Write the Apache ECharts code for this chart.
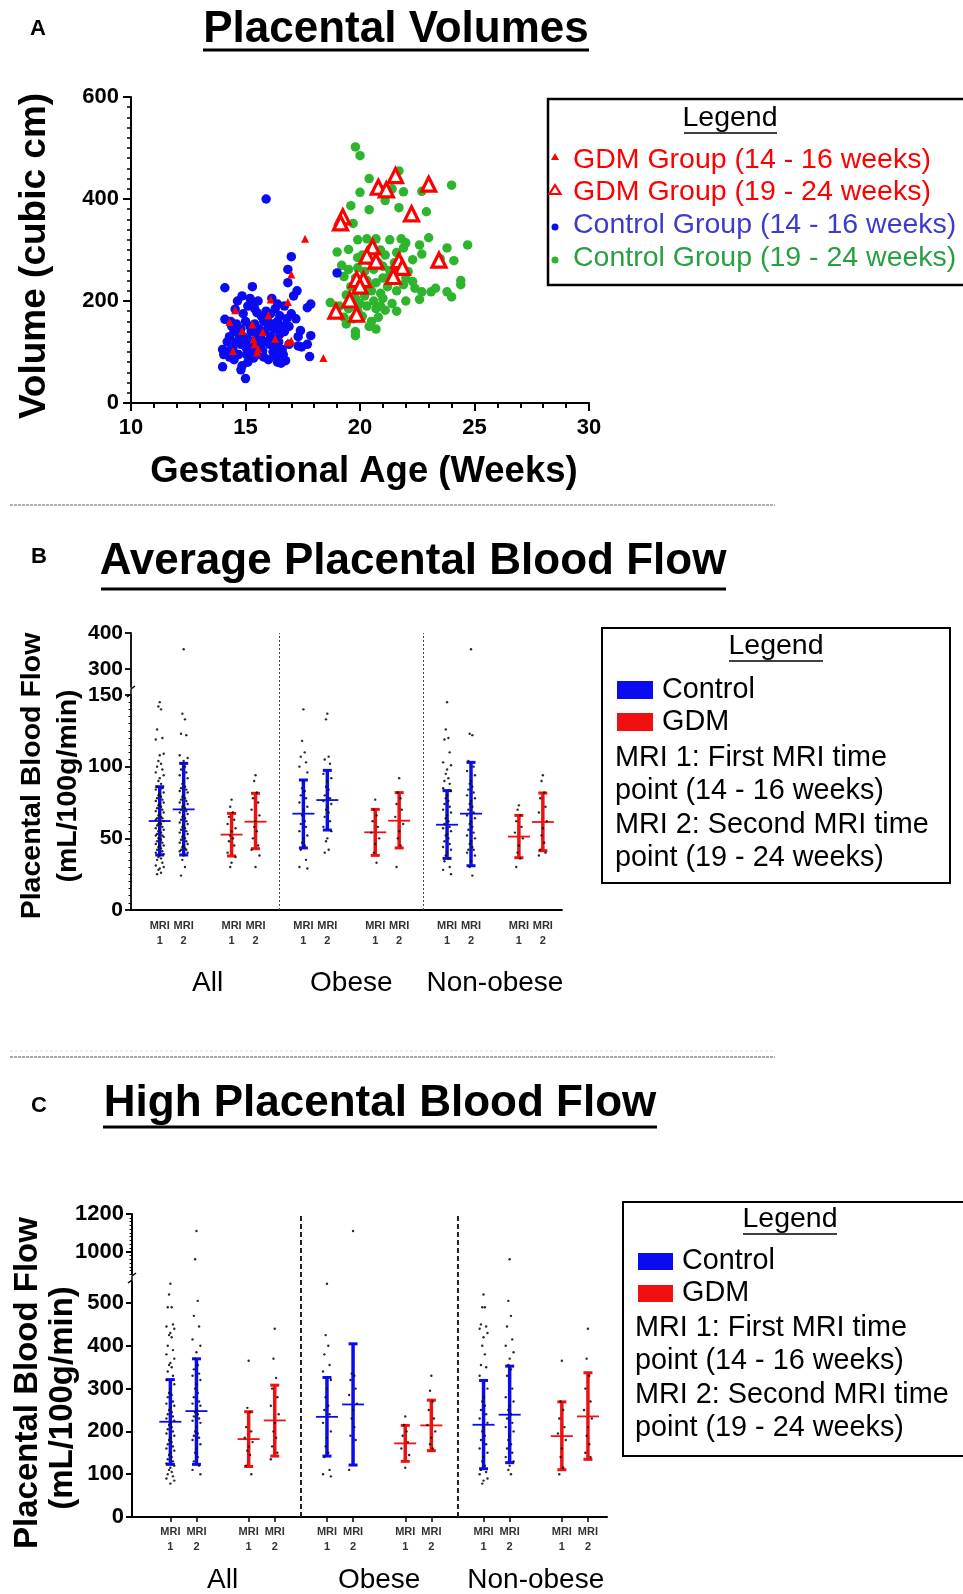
<!DOCTYPE html>
<html><head><meta charset="utf-8">
<script src="https://cdn.jsdelivr.net/npm/echarts@6/dist/echarts.min.js"></script>
<style>html,body{margin:0;padding:0;background:#fff}#c{width:963px;height:1594px}</style>
</head><body><div id="c"></div>
<script>
// ---------------- Panel A data: [gestational week, volume cm3] ----------------
const ctrlEarly = [[15.9,400],[19.0,255],[17.0,287],[16.85,262],[16.85,236],[14.1,226],[15.3,228],[17.25,220],[17.1,210],[14.85,210],[15.35,197],[16.4,194],[17.85,194],[17.7,187],[14.55,184],[15.5,177],[16.5,171],[14.1,164],[17.2,165],[16.9,150],[17.4,142],[17.85,132],[17.7,115],[17.3,112],[17.45,110],[17.8,91],[16.75,83],[16.4,80],[15.0,48],[14.0,71],[14.85,73],[14.3,90],[14.5,85],[14.7,95],[14.2,100],[14.0,105],[14.4,110],[14.6,120],[14.8,115],[15.0,110],[15.2,105],[15.4,100],[15.6,95],[15.8,90],[16.0,85],[16.2,100],[16.4,110],[16.6,105],[16.9,115],[14.3,130],[14.5,140],[14.7,135],[14.9,130],[15.1,125],[15.3,120],[15.5,130],[15.7,125],[15.9,120],[16.1,130],[16.3,125],[16.5,135],[16.7,140],[14.4,150],[14.6,155],[14.8,145],[15.0,160],[15.2,150],[15.4,155],[15.6,145],[15.8,160],[16.0,150],[16.2,155],[16.4,160],[16.6,150],[16.8,165],[14.9,175],[15.1,190],[15.4,185],[15.7,170],[15.9,180],[16.1,175],[16.3,185],[14.2,120],[14.35,160],[15.05,95],[15.25,140],[15.45,115],[15.65,110],[15.85,140],[16.05,115],[16.25,145],[16.45,120],[16.65,95],[15.55,200],[15.2,205],[14.65,200],[16.7,190],[17.0,175],[17.3,130],[15.95,165],[16.15,205],[14.45,105],[14.05,95],[15.35,88],[15.75,102],[16.35,92],[14.8,65],[15.1,80],[16.55,78]];
const ctrlLate = [[19.8,502],[20.0,485],[20.4,440],[20.0,413],[19.6,387],[20.4,379],[21.1,397],[21.4,420],[21.9,414],[21.7,383],[22.7,415],[22.9,375],[24.0,427],[19.7,352],[21.7,455],[20.9,418],[19.0,296],[19.5,301],[19.9,320],[20.3,322],[20.7,322],[21.3,320],[21.8,322],[21.9,304],[22.6,310],[23.0,324],[23.8,304],[24.7,310],[23.5,283],[24.1,279],[22.3,281],[20.1,290],[20.5,305],[20.9,300],[21.1,290],[21.6,295],[22.0,314],[20.4,280],[21.5,275],[19.2,270],[19.5,262],[19.9,265],[20.2,258],[20.6,262],[21.0,268],[21.3,260],[21.7,262],[22.1,258],[19.3,248],[19.8,245],[20.3,240],[20.7,236],[21.0,245],[21.5,240],[22.0,245],[22.3,238],[22.4,225],[22.7,218],[23.3,225],[24.4,240],[24.4,232],[19.6,228],[20.1,225],[20.5,220],[20.9,215],[21.2,228],[21.6,220],[21.9,232],[22.0,200],[22.6,203],[24.0,208],[23.8,218],[19.4,212],[19.8,205],[20.2,210],[20.6,200],[21.0,205],[21.4,195],[21.6,180],[18.7,197],[19.1,190],[19.5,185],[19.9,180],[20.3,190],[20.7,185],[21.1,182],[19.3,168],[19.7,165],[20.1,170],[20.5,160],[20.8,168],[19.4,155],[19.8,140],[19.8,132],[20.4,150],[20.7,145],[20.9,190],[20.0,195],[20.4,230],[21.3,250],[20.8,275],[19.9,285],[23.1,218],[22.7,292]];
const gdmEarly = [[14.55,182],[14.3,159],[14.85,141],[15.3,154],[15.75,139],[16.1,203],[16.0,172],[16.3,126],[16.85,198],[17.0,252],[16.85,119],[17.0,122],[17.6,322],[18.4,88],[14.45,102],[15.4,115],[15.5,99],[15.55,106],[15.35,125]];
const gdmLate = [[21.55,446],[20.8,423],[21.15,418],[23.0,429],[22.25,371],[19.25,365],[19.15,353],[20.55,306],[20.3,288],[20.7,278],[21.7,279],[21.85,266],[23.45,280],[21.45,248],[19.85,242],[20.15,242],[20.0,229],[19.55,202],[18.95,180],[19.85,174]];

// ---------------- Panels B / C shared categories ----------------
const groupNames = ['All', 'Obese', 'Non-obese'];
const mriNames = ['1', '2'];

// ---------------- Panel B: average placental blood flow (order: All1, All2, Obese1, Obese2, Non1, Non2) ----------------
const bCtrlMean = [62.1, 70.2, 67.2, 76.7, 59.5, 67.2];
const bCtrlHigh = [86, 102.3, 90.7, 97.4, 83.3, 103];
const bCtrlLow  = [38.4, 38.4, 43.3, 55.8, 36, 30.9];
const bGdmMean  = [52.6, 61.6, 54.2, 62.3, 51.2, 61.4];
const bGdmHigh  = [67.4, 81.4, 70.2, 81.9, 66, 81.6];
const bGdmLow   = [37.7, 42.8, 38.1, 43.3, 36.5, 41.4];
const bCtrlAll1 = [145,142,140,126,120,119,109,108,104,102,100,98,96,94,92,90,88,86,85,84,82,81,80,79,78,77,76,75,74,73,72,71,70,69,68,67,66,65,64,64,63,62,61,60,60,59,58,57,56,56,55,54,53,52,52,51,50,50,49,48,47,46,45,45,44,43,42,41,40,39,38,37,36,35,33,31,30,29,28,26,25];
const bCtrlAll2 = [355,137,133,123,122,108,106,104,102,100,98,96,94,92,90,88,86,85,84,83,82,80,79,78,77,76,75,74,73,72,71,70,69,68,67,66,65,64,63,62,61,60,59,58,57,56,55,54,53,52,51,50,49,48,47,46,45,44,43,42,42,41,40,38,35,30,24];
const bCtrlOb1  = [140,118,110,107,103,100,96,90,85,83,80,78,75,72,70,66,62,60,58,55,52,50,47,45,42,35,30,29];
const bCtrlOb2  = [137,133,107,105,102,95,92,90,86,84,80,78,76,74,72,70,68,65,62,58,55,50,48,42,40];
const bCtrlNo1  = [145,126,120,119,110,103,101,98,95,92,90,88,85,83,80,78,76,74,72,70,68,66,64,62,60,58,57,55,53,52,50,48,46,44,42,40,38,36,34,30,28,25];
const bCtrlNo2  = [355,123,122,104,100,97,94,90,88,86,84,82,80,78,76,74,72,70,68,66,64,62,60,58,56,54,52,50,48,46,44,42,42,40,38,34,30,24];
const bGdmAll1  = [77,72,68,65,63,60,57,55,52,50,48,45,40,37,33,30];
const bGdmAll2  = [94,90,82,78,75,70,66,62,58,55,50,45,42,38,30];
const bGdmOb1   = [77,70,66,62,58,54,50,46,40,33];
const bGdmOb2   = [92,82,78,74,70,65,60,55,50,45,30];
const bGdmNo1   = [73,70,66,62,58,54,50,45,40,36,30];
const bGdmNo2   = [94,90,82,78,72,68,62,57,52,47,42,40,38];
const bLowerTicks = [0, 50, 100, 150];
const bUpperTicks = [300, 400];

// ---------------- Panel C: high placental blood flow ----------------
const cCtrlMean = [222.5, 247.4, 234, 263, 215.5, 239];
const cCtrlHigh = [321, 369.6, 326, 404.6, 319, 352.5];
const cCtrlLow  = [123, 123, 142.4, 121.4, 112.8, 127];
const cGdmMean  = [182, 225.6, 172, 214, 189, 235];
const cGdmHigh  = [246, 308, 214, 273, 269, 337];
const cGdmLow   = [118, 142.4, 130, 155, 110.5, 134.7];
const cCtrlAll1 = [545,520,490,490,450,445,440,430,425,420,400,390,380,370,360,355,350,340,330,320,310,300,290,285,280,270,265,260,255,250,245,240,235,230,225,220,215,210,205,200,195,190,185,180,175,170,165,160,155,150,145,140,135,130,125,120,115,110,105,100,95,90,85,78];
const cCtrlAll2 = [1110,960,505,470,445,415,400,385,370,355,345,335,330,320,310,300,290,280,270,265,260,250,245,240,235,230,225,220,210,200,195,190,185,180,170,160,150,140,130,120,110,100];
const cCtrlOb1  = [545,425,400,380,355,340,320,300,280,260,250,240,220,200,185,165,150,140,110,100,95];
const cCtrlOb2  = [1110,335,330,320,300,285,265,250,230,210,190,180,110];
const cCtrlNo1  = [520,490,490,450,445,440,430,420,400,380,355,350,330,300,280,270,260,250,240,230,220,210,200,190,180,170,160,150,140,130,120,110,105,100,90,85,78];
const cCtrlNo2  = [960,505,470,445,415,400,385,370,355,345,330,300,280,270,260,250,240,230,220,210,200,190,180,170,160,150,140,130,120,110,100];
const cGdmAll1  = [365,255,245,210,200,185,175,165,155,145,120,100];
const cGdmAll2  = [440,370,325,300,280,260,240,220,200,185,165,150,135];
const cGdmOb1   = [235,215,200,190,175,160,145,115];
const cGdmOb2   = [330,295,270,250,230,215,200,185,170,160];
const cGdmNo1   = [365,270,250,230,210,195,180,160,140,115,100];
const cGdmNo2   = [440,370,330,300,270,250,230,210,190,170,150,140];
const cLowerTicks = [0, 100, 200, 300, 400, 500];
const cUpperTicks = [1000, 1200];

// ---------------- helpers / styles ----------------
const F = '"Liberation Sans", Arial, Helvetica, sans-serif';
const BLUE = '#0b0bf2', RED = '#f01010', GREEN = '#2db52d';

function colPos(base, g, s, t) { return base + 6 * g + 3 * s + t; }
function allPositions(base) {
  const r = [];
  for (let g = 0; g < 3; g++) for (let s = 0; s < 2; s++) for (let t = 0; t < 2; t++) r.push(colPos(base, g, s, t));
  return r;
}
function groupCenters(base) { return [0, 1, 2].map(g => base + 6 * g + 2); }
const jit = [0, -1, 1, -2, 2, -3, 3];

function errRender(color) {
  return function (params, api) {
    const x = api.value(0);
    const m = api.coord([x, api.value(1)]);
    const lo = api.coord([x, api.value(2)]);
    const hi = api.coord([x, api.value(3)]);
    const cx = m[0];
    return { type: 'group', children: [
      { type: 'line', shape: { x1: cx, y1: hi[1], x2: cx, y2: lo[1] }, style: { stroke: color, lineWidth: 3.5 } },
      { type: 'line', shape: { x1: cx - 4.5, y1: hi[1], x2: cx + 4.5, y2: hi[1] }, style: { stroke: color, lineWidth: 3 } },
      { type: 'line', shape: { x1: cx - 4.5, y1: lo[1], x2: cx + 4.5, y2: lo[1] }, style: { stroke: color, lineWidth: 3 } },
      { type: 'line', shape: { x1: cx - 11, y1: m[1], x2: cx + 11, y2: m[1] }, style: { stroke: color, lineWidth: 1.8 } }
    ] };
  };
}

function buildPanel(p) {
  const series = [];
  const sets = [[p.ctrlMean, p.ctrlLow, p.ctrlHigh, BLUE, 0], [p.gdmMean, p.gdmLow, p.gdmHigh, RED, 1]];
  sets.forEach(([mean, low, high, color, s]) => {
    const data = mean.map((v, k) => [colPos(p.base, k >> 1, s, k & 1), v, low[k], high[k]]);
    series.push({ type: 'custom', xAxisIndex: p.xLow, yAxisIndex: p.yLow, data, encode: { x: 0, y: 1 },
      renderItem: errRender(color), z: 3, silent: true });
  });
  const lower = [], upper = [];
  [[p.ctrlDots, 0], [p.gdmDots, 1]].forEach(([cols, s]) => {
    cols.forEach((vals, k) => {
      const pos = colPos(p.base, k >> 1, s, k & 1);
      vals.forEach((v, i) => {
        const pt = [pos + jit[i % 7] * p.jw, v];
        (v > p.split ? upper : lower).push(pt);
      });
    });
  });
  const dotStyle = { color: '#111', opacity: 0.9 };
  series.push({ type: 'scatter', xAxisIndex: p.xLow, yAxisIndex: p.yLow, data: lower, symbolSize: 2.4, itemStyle: dotStyle, z: 5, silent: true });
  series.push({ type: 'scatter', xAxisIndex: p.xUp, yAxisIndex: p.yUp, data: upper, symbolSize: 2.4, itemStyle: dotStyle, z: 5, silent: true });
  series.push({ type: 'line', xAxisIndex: p.xOv, yAxisIndex: p.yOv, data: [], silent: true,
    markLine: { symbol: 'none', silent: true, label: { show: false }, animation: false,
      lineStyle: { type: p.dash, color: p.dashC, width: p.dashW },
      data: [{ xAxis: p.base + 5 }, { xAxis: p.base + 11 }] } });
  return series;
}

const bPos = allPositions(1.2), cPos = allPositions(1.47);

function mriLabel(base) {
  return v => { const t = Math.round(v - base) % 3; return '{m|MRI}\n{m|' + mriNames[t] + '}'; };
}
function groupLabel(base) {
  return v => groupNames[Math.round((v - base - 2) / 6)];
}
const mriRich = { m: { fontSize: 11, fontWeight: 'bold', color: '#333', lineHeight: 15, fontFamily: F } };
const plain = v => String(v);

const hidden = { show: false };
const axisBlack = w => ({ show: true, lineStyle: { color: '#000', width: w } });

const xAxis = [
  // 0 A
  { gridIndex: 0, type: 'value', position: 'bottom', min: 10, max: 30, interval: 5, axisLine: axisBlack(2), splitLine: hidden,
    axisTick: { show: true, length: 8, lineStyle: { width: 2, color: '#000' } },
    minorTick: { show: true, splitNumber: 5, length: 5, lineStyle: { width: 2, color: '#000' } },
    axisLabel: { fontSize: 22, fontWeight: 'bold', color: '#000', margin: 14, fontFamily: F } },
  // 1 B lower (MRI labels)
  { gridIndex: 1, type: 'value', position: 'bottom', min: 0, max: 18, axisLine: axisBlack(1.8), splitLine: hidden, axisTick: hidden,
    axisLabel: { customValues: bPos, formatter: mriLabel(1.2), rich: mriRich, margin: 8 } },
  // 2 B group labels
  { gridIndex: 1, type: 'value', position: 'bottom', min: 0, max: 18, axisLine: hidden, splitLine: hidden, axisTick: hidden,
    axisLabel: { customValues: groupCenters(1.2), formatter: groupLabel(1.2), fontSize: 28, lineHeight: 32, color: '#000', margin: 57, fontFamily: F } },
  // 3 B upper
  { gridIndex: 2, type: 'value', min: 0, max: 18, show: false },
  // 4 C lower
  { gridIndex: 3, type: 'value', position: 'bottom', min: 0, max: 18.2, axisLine: axisBlack(2), splitLine: hidden,
    axisTick: { show: true, customValues: cPos, length: 5, lineStyle: { width: 1.5, color: '#000' } },
    axisLabel: { customValues: cPos, formatter: mriLabel(1.47), rich: mriRich, margin: 7 } },
  // 5 C group labels
  { gridIndex: 3, type: 'value', position: 'bottom', min: 0, max: 18.2, axisLine: hidden, splitLine: hidden, axisTick: hidden,
    axisLabel: { customValues: groupCenters(1.47), formatter: groupLabel(1.47), fontSize: 28, lineHeight: 32, color: '#000', margin: 47, fontFamily: F } },
  // 6 C upper
  { gridIndex: 4, type: 'value', min: 0, max: 18.2, show: false },
  // 7 B overlay, 8 C overlay
  { gridIndex: 5, type: 'value', min: 0, max: 18, show: false },
  { gridIndex: 6, type: 'value', min: 0, max: 18.2, show: false }
];

const yLab = (size, margin) => ({ fontSize: size, fontWeight: 'bold', color: '#000', margin, fontFamily: F, formatter: plain });
const yAxis = [
  // 0 A
  { gridIndex: 0, type: 'value', min: 0, max: 600, interval: 200, axisLine: axisBlack(2), splitLine: hidden,
    axisTick: { show: true, length: 8, lineStyle: { width: 2, color: '#000' } },
    minorTick: { show: true, splitNumber: 10, length: 4, lineStyle: { width: 1.5, color: '#000' } },
    axisLabel: yLab(22, 12) },
  // 1 B lower
  { gridIndex: 1, type: 'value', min: 0, max: 150, interval: 50, axisLine: axisBlack(1.8), splitLine: hidden,
    axisTick: { show: true, length: 6, lineStyle: { width: 1.8, color: '#000' } },
    minorTick: { show: true, splitNumber: 10, length: 2.5, lineStyle: { width: 1, color: '#000' } },
    axisLabel: Object.assign(yLab(21, 8), { customValues: bLowerTicks }) },
  // 2 B upper
  { gridIndex: 2, type: 'value', min: 250, max: 400, axisLine: axisBlack(1.8), splitLine: hidden,
    axisTick: { show: true, customValues: bUpperTicks, length: 6, lineStyle: { width: 1.8, color: '#000' } },
    axisLabel: Object.assign(yLab(21, 8), { customValues: bUpperTicks }) },
  // 3 C lower
  { gridIndex: 3, type: 'value', min: 0, max: 550, axisLine: axisBlack(2), splitLine: hidden,
    axisTick: { show: true, customValues: cLowerTicks, length: 6, lineStyle: { width: 2, color: '#000' } },
    axisLabel: Object.assign(yLab(22, 8), { customValues: cLowerTicks }) },
  // 4 C upper
  { gridIndex: 4, type: 'value', min: 880, max: 1200, axisLine: axisBlack(2), splitLine: hidden,
    axisTick: { show: true, customValues: cUpperTicks, length: 6, lineStyle: { width: 2, color: '#000' } },
    axisLabel: Object.assign(yLab(22, 8), { customValues: cUpperTicks }) },
  // 5 C upper minor ticks
  { gridIndex: 4, type: 'value', position: 'left', min: 880, max: 1200, interval: 20, axisLine: hidden, splitLine: hidden,
    axisLabel: hidden, axisTick: { show: true, length: 2.5, lineStyle: { width: 1, color: '#000' } } },
  // 6 B overlay, 7 C overlay
  { gridIndex: 5, type: 'value', min: 0, max: 1, show: false },
  { gridIndex: 6, type: 'value', min: 0, max: 1, show: false }
];

const series = [
  { type: 'scatter', xAxisIndex: 0, yAxisIndex: 0, data: ctrlLate, symbol: 'circle', symbolSize: 9.5, itemStyle: { color: GREEN, opacity: 1 }, z: 2, silent: true },
  { type: 'scatter', xAxisIndex: 0, yAxisIndex: 0, data: ctrlEarly, symbol: 'circle', symbolSize: 9.5, itemStyle: { color: BLUE, opacity: 1 }, z: 3, silent: true },
  { type: 'scatter', xAxisIndex: 0, yAxisIndex: 0, data: gdmEarly, symbol: 'triangle', symbolSize: 8, itemStyle: { color: '#ff0000', opacity: 1 }, z: 4, silent: true },
  { type: 'scatter', xAxisIndex: 0, yAxisIndex: 0, data: gdmLate, symbol: 'triangle', symbolSize: 14, itemStyle: { color: '#fff', borderColor: '#ff0000', borderWidth: 3.2, opacity: 1 }, z: 5, silent: true }
].concat(buildPanel({
  base: 1.2, split: 150, jw: 0.055, xLow: 1, yLow: 1, xUp: 3, yUp: 2, xOv: 7, yOv: 6, dash: [2, 2], dashW: 1, dashC: '#444',
  ctrlMean: bCtrlMean, ctrlLow: bCtrlLow, ctrlHigh: bCtrlHigh, gdmMean: bGdmMean, gdmLow: bGdmLow, gdmHigh: bGdmHigh,
  ctrlDots: [bCtrlAll1, bCtrlAll2, bCtrlOb1, bCtrlOb2, bCtrlNo1, bCtrlNo2],
  gdmDots: [bGdmAll1, bGdmAll2, bGdmOb1, bGdmOb2, bGdmNo1, bGdmNo2]
})).concat(buildPanel({
  base: 1.47, split: 550, jw: 0.05, xLow: 4, yLow: 3, xUp: 6, yUp: 4, xOv: 8, yOv: 7, dash: [5, 3], dashW: 2, dashC: '#222',
  ctrlMean: cCtrlMean, ctrlLow: cCtrlLow, ctrlHigh: cCtrlHigh, gdmMean: cGdmMean, gdmLow: cGdmLow, gdmHigh: cGdmHigh,
  ctrlDots: [cCtrlAll1, cCtrlAll2, cCtrlOb1, cCtrlOb2, cCtrlNo1, cCtrlNo2],
  gdmDots: [cGdmAll1, cGdmAll2, cGdmOb1, cGdmOb2, cGdmNo1, cGdmNo2]
}));

// ---------------- decorations (titles, legends, separators) ----------------
function T(x, y, text, size, o) {
  o = o || {};
  return { type: 'text', x, y, rotation: o.rot || 0, z: 10, silent: true,
    style: { text, fontSize: size, fontWeight: o.bold ? 'bold' : 'normal', fontFamily: F, fill: o.color || '#000',
      align: o.align || 'center', verticalAlign: 'middle' } };
}
function L(x1, y1, x2, y2, w, c, dash) {
  return { type: 'line', z: 10, silent: true, shape: { x1, y1, x2, y2 }, style: { stroke: c || '#000', lineWidth: w, lineDash: dash || null } };
}
function R(x, y, w, h, fill, stroke, lw) {
  return { type: 'rect', z: 9, silent: true, shape: { x, y, width: w, height: h }, style: { fill: fill || 'none', stroke: stroke || null, lineWidth: lw || 0 } };
}

const g = [];
// Panel A
g.push(T(38, 29, 'A', 22, { bold: true }));
g.push(T(396, 30, 'Placental Volumes', 44, { bold: true }));
g.push(L(203, 50, 589, 50, 3));
g.push(T(35, 256, 'Volume (cubic cm)', 37, { bold: true, rot: Math.PI / 2 }));
g.push(T(364, 472, 'Gestational Age (Weeks)', 36.5, { bold: true }));
g.push(R(548, 99, 430, 186, 'none', '#000', 2.5));
g.push(T(730, 118, 'Legend', 28.5));
g.push(L(684, 133, 777, 133, 1.5));
const aLegend = [
  ['GDM Group (14 - 16 weeks)', '#ff0000', 160],
  ['GDM Group (19 - 24 weeks)', '#ff0000', 192],
  ['Control Group (14 - 16 weeks)', '#3c3cc8', 225],
  ['Control Group (19 - 24 weeks)', '#26a040', 258]
];
aLegend.forEach(([t, c, y]) => g.push(T(573, y, t, 28.5, { color: c, align: 'left' })));
g.push({ type: 'polygon', z: 10, silent: true, shape: { points: [[555, 153], [559, 160], [551, 160]] }, style: { fill: '#ff0000' } });
g.push({ type: 'polygon', z: 10, silent: true, shape: { points: [[555, 185], [560.5, 194], [549.5, 194]] }, style: { fill: '#fff', stroke: '#ff0000', lineWidth: 2.2 } });
g.push({ type: 'circle', z: 10, silent: true, shape: { cx: 555, cy: 227, r: 3.5 }, style: { fill: BLUE } });
g.push({ type: 'circle', z: 10, silent: true, shape: { cx: 555, cy: 260, r: 3.5 }, style: { fill: GREEN } });

// separators
g.push(L(10, 505, 775, 505, 2, '#b0b0b0', [3, 1]));
g.push(L(10, 1051, 775, 1051, 1, '#e0e0e0', [3, 2]));
g.push(L(10, 1057, 775, 1057, 2, '#a8a8a8', [3, 1]));

// Panel B
g.push(T(39, 557, 'B', 22, { bold: true }));
g.push(T(413, 562, 'Average Placental Blood Flow', 44, { bold: true }));
g.push(L(101, 589, 726, 589, 3));
g.push(T(32, 776, 'Placental Blood Flow', 28.5, { bold: true, rot: Math.PI / 2 }));
g.push(T(68, 786, '(mL/100g/min)', 28.5, { bold: true, rot: Math.PI / 2 }));
g.push({ type: 'polyline', z: 10, silent: true, shape: { points: [[127, 697], [131, 694], [131, 689], [135, 686]] }, style: { stroke: '#000', lineWidth: 1.5, fill: null } });
g.push(R(602, 628, 348, 255, 'none', '#000', 2));
g.push(T(776, 646, 'Legend', 28.5));
g.push(L(729, 661, 823, 661, 1.5));
g.push(R(617, 681, 36, 18, BLUE)); g.push(T(662, 690, 'Control', 28.8, { align: 'left' }));
g.push(R(617, 713, 36, 18, RED)); g.push(T(662, 722, 'GDM', 28.8, { align: 'left' }));
['MRI 1: First MRI time', 'point (14 - 16 weeks)', 'MRI 2: Second MRI time', 'point (19 - 24 weeks)']
  .forEach((t, i) => g.push(T(615, 758 + i * 33.4, t, 28.8, { align: 'left' })));

// Panel C
g.push(T(39, 1106, 'C', 22, { bold: true }));
g.push(T(380, 1104, 'High Placental Blood Flow', 44, { bold: true }));
g.push(L(103, 1127, 657, 1127, 3));
g.push(T(28, 1383, 'Placental Blood Flow', 33, { bold: true, rot: Math.PI / 2 }));
g.push(T(63, 1398, '(mL/100g/min)', 33, { bold: true, rot: Math.PI / 2 }));
g.push({ type: 'polyline', z: 10, silent: true, shape: { points: [[128, 1283], [132, 1280], [132, 1276], [136, 1273]] }, style: { stroke: '#000', lineWidth: 1.5, fill: null } });
g.push(R(623, 1202, 345, 254, 'none', '#000', 2));
g.push(T(790, 1219, 'Legend', 28.5));
g.push(L(743, 1234, 837, 1234, 1.5));
g.push(R(638, 1253, 35, 17, BLUE)); g.push(T(682, 1261, 'Control', 28.8, { align: 'left' }));
g.push(R(638, 1285, 35, 17, RED)); g.push(T(682, 1293, 'GDM', 28.8, { align: 'left' }));
['MRI 1: First MRI time', 'point (14 - 16 weeks)', 'MRI 2: Second MRI time', 'point (19 - 24 weeks)']
  .forEach((t, i) => g.push(T(635, 1328 + i * 33.4, t, 28.8, { align: 'left' })));

const gridBase = { outerBoundsMode: 'none', containLabel: false };
const option = {
  backgroundColor: '#fff',
  animation: false,
  textStyle: { fontFamily: F },
  grid: [
    { left: 131, top: 97, width: 458, height: 306 },
    { left: 131, top: 695, width: 431, height: 215 },
    { left: 131, top: 633, width: 431, height: 54 },
    { left: 132, top: 1281.6, width: 475, height: 235.4 },
    { left: 132, top: 1214, width: 475, height: 60.3 },
    { left: 131, top: 633, width: 431, height: 277 },
    { left: 132, top: 1214, width: 475, height: 303 }
  ].map(o => Object.assign({}, gridBase, o)),
  xAxis, yAxis, series, graphic: g
};
const chart = echarts.init(document.getElementById('c'), null, { renderer: 'canvas' });
chart.setOption(option);
</script></body></html>
